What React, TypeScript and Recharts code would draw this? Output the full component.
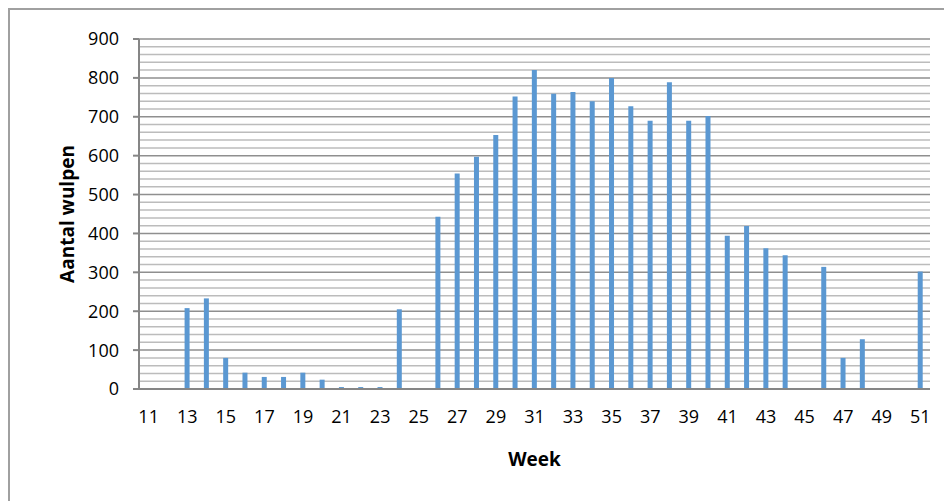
import { Bar, BarChart, CartesianGrid, Label, XAxis, YAxis } from 'recharts';

const weeks = [
  11, 12, 13, 14, 15, 16, 17, 18, 19, 20, 21, 22, 23, 24, 25, 26, 27, 28, 29, 30, 31,
  32, 33, 34, 35, 36, 37, 38, 39, 40, 41, 42, 43, 44, 45, 46, 47, 48, 49, 50, 51,
];
const wulpen = [
  0, 0, 208, 233, 80, 42, 31, 31, 42, 24, 5, 5, 5, 205, 0, 443, 554, 597, 653, 752, 820,
  759, 764, 740, 800, 727, 690, 789, 690, 702, 394, 419, 362, 344, 0, 314, 80, 128, 0, 0, 302,
];
const majorTicks = [0, 100, 200, 300, 400, 500, 600, 700, 800, 900];
const yMax = 900;
// minor grid every 20
const minorTicks = Array.from({ length: 46 }, (_, i) => i * 20).filter((v) => v % 100 !== 0);

const data = weeks.map((w, i) => ({ week: w, aantal: wulpen[i] }));

const font = '"Open Sans", sans-serif';
const axisColor = '#868686';

const minorGrid = ({ offset }: any) =>
  minorTicks.map((v) => offset.top + offset.height * (1 - v / yMax));

export default function App() {
  return (
    <div style={{ position: 'relative', width: 944, height: 493, fontFamily: font }}>
      <div
        style={{
          position: 'absolute',
          left: 0,
          top: 0,
          width: 944,
          height: 493,
          borderLeft: '2px solid #a0a0a0',
          borderTop: '2px solid #a0a0a0',
          boxSizing: 'border-box',
        }}
      />
      <div style={{ position: 'absolute', left: 0, top: 0 }}>
        <BarChart
          width={944}
          height={493}
          data={data}
          margin={{ top: 31, right: 22, bottom: 27, left: 31 }}
        >
          <CartesianGrid
            vertical={false}
            stroke="#bcbcbc"
            strokeWidth={1.5}
            horizontalCoordinatesGenerator={minorGrid}
          />
          <CartesianGrid vertical={false} stroke="#8f8f8f" strokeWidth={1.5} />
          <XAxis
            dataKey="week"
            interval={1}
            tickLine={false}
            tickSize={0}
            tickMargin={21}
            stroke={axisColor}
            strokeWidth={2}
            tick={{ fill: '#000', fontSize: 18, fontFamily: font }}
            height={85}
          >
            <Label
              value="Week"
              position="insideBottom"
              offset={8}
              style={{ fontWeight: 700, fontSize: 19, fill: '#000', fontFamily: font }}
            />
          </XAxis>
          <YAxis
            domain={[0, yMax]}
            ticks={majorTicks}
            width={100}
            tickSize={6}
            tickMargin={14}
            stroke={axisColor}
            strokeWidth={2}
            tick={{ fill: '#000', fontSize: 18, fontFamily: font }}
          >
            <Label
              value="Aantal wulpen"
              angle={-90}
              position="insideLeft"
              offset={28}
              style={{ textAnchor: 'middle', fontWeight: 700, fontSize: 19, fill: '#000', fontFamily: font }}
            />
          </YAxis>
          <Bar dataKey="aantal" fill="#5b98d2" barSize={5} isAnimationActive={false} />
        </BarChart>
      </div>
    </div>
  );
}
